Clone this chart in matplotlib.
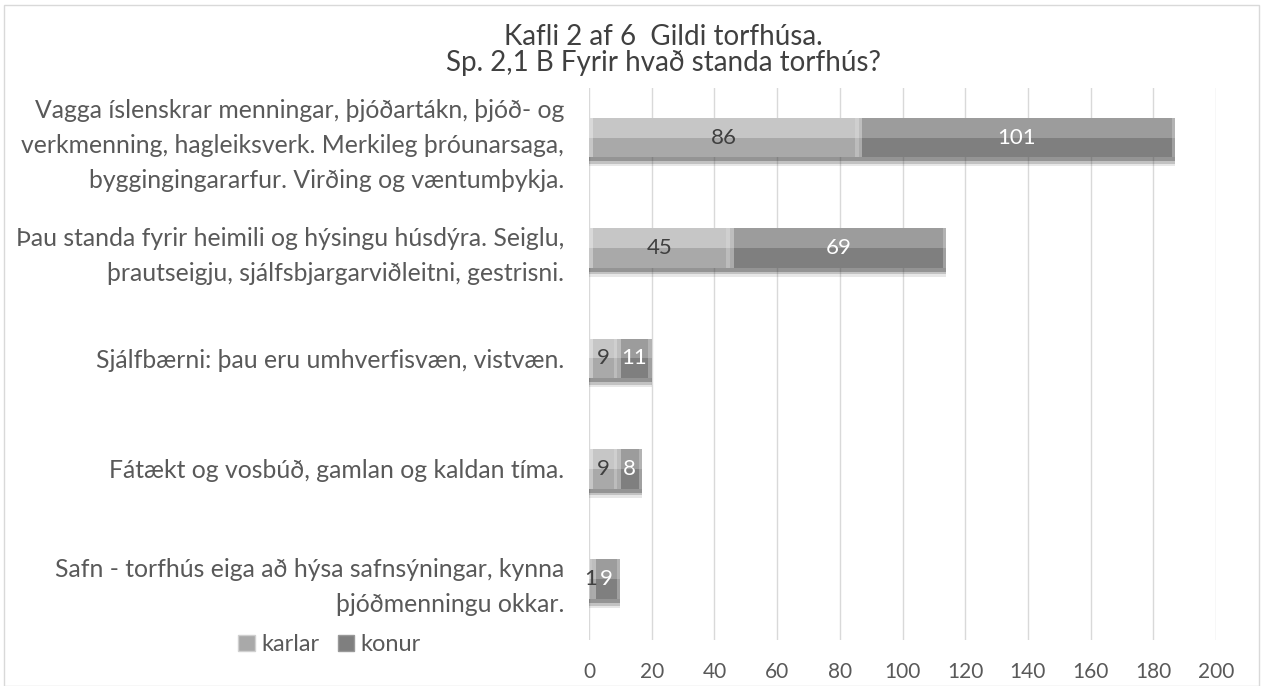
import matplotlib
matplotlib.use('Agg')
import matplotlib.pyplot as plt
from matplotlib.patches import Patch, Rectangle
import numpy as np

plt.rcParams['font.family'] = ['Lato', 'DejaVu Sans']

# data
categories = [
    "Vagga íslenskrar menningar, þjóðartákn, þjóð- og\nverkmenning, hagleiksverk. Merkileg þróunarsaga,\nbyggingingararfur. Virðing og væntumþykja.",
    "Þau standa fyrir heimili og hýsingu húsdýra. Seiglu,\nþrautseigju, sjálfsbjargarviðleitni, gestrisni.",
    "Sjálfbærni: þau eru umhverfisvæn, vistvæn.",
    "Fátækt og vosbúð, gamlan og kaldan tíma.",
    "Safn - torfhús eiga að hýsa safnsýningar, kynna\nþjóðmenningu okkar.",
]
karlar = [86, 45, 9, 9, 1]
konur = [101, 69, 11, 8, 9]
xticks = list(range(0, 201, 20))

title_lines = ["Kafli 2 af 6  Gildi torfhúsa.", "Sp. 2,1 B Fyrir hvað standa torfhús?"]

fig = plt.figure(figsize=(12.63, 6.86), dpi=100)
fig.patches.append(Rectangle((0.003, 0.0), 0.994, 0.992, transform=fig.transFigure,
                             fill=False, edgecolor='#d9d9d9', lw=1.0))

ax = fig.add_axes([0.4664, 0.067, 0.4964, 0.805])
y = np.arange(len(categories)) - 0.05
h = 0.36

# colours: (top half, bottom half, text)
styles = {
    'karlar': ('#c6c6c6', '#a9a9a9', '#404040'),
    'konur': ('#9c9c9c', '#7f7f7f', 'white'),
}


def bevel_bars(vals, left, key):
    top, bot, tc = styles[key]
    # soft shadow under the bars
    for k, a in [(0.08, 0.12), (0.06, 0.22), (0.035, 0.35)]:
        ax.barh(y + k, vals, height=h, left=left, color='#404040', alpha=a,
                edgecolor='none', zorder=2)
    ax.barh(y, vals, height=h, left=left, color=bot, edgecolor='none', zorder=3)
    ax.barh(y - h / 4, vals, height=h / 2, left=left, color=top, edgecolor='none', zorder=3)
    # light edges at the bar ends
    for yi, v, l in zip(y, vals, left):
        ew = min(1.2, v * 0.2)
        ax.add_patch(Rectangle((l, yi - h / 2), ew, h, color='white', alpha=0.35, lw=0, zorder=4))
        ax.add_patch(Rectangle((l + v - ew, yi - h / 2), ew, h, color='#e0e0e0', alpha=0.35, lw=0, zorder=4))
        ax.text(l + v / 2, yi, str(v), ha='center', va='center', color=tc,
                fontsize=16, zorder=5)


bevel_bars(karlar, [0] * len(karlar), 'karlar')
bevel_bars(konur, karlar, 'konur')

ax.set_xlim(0, 200)
ax.set_ylim(len(categories) - 0.5, -0.5)
ax.set_xticks(xticks)
ax.set_yticks(y)
ax.set_yticklabels(categories, fontsize=17.8, color='#595959', linespacing=1.62)
ax.tick_params(axis='y', length=0, pad=18)
ax.tick_params(axis='x', length=0, pad=16, labelsize=15, labelcolor='#595959')
ax.grid(axis='x', color='#d9d9d9', lw=1.0, zorder=0)
ax.set_axisbelow(True)
for s in ax.spines.values():
    s.set_visible(False)

fig.text(0.525, 1 - 37 / 686, title_lines[0], ha='center', va='center', fontsize=20,
         color='#404040')
fig.text(0.525, 1 - 63 / 686, title_lines[1], ha='center', va='center', fontsize=20,
         color='#404040')

handles = [Patch(facecolor=styles['karlar'][1], edgecolor='#d0d0d0', label='karlar'),
           Patch(facecolor=styles['konur'][1], edgecolor='#999999', label='konur')]
fig.legend(handles=handles, loc='center left', bbox_to_anchor=(0.172, 0.06), ncol=2,
           frameon=False, fontsize=17, labelcolor='#595959', handlelength=0.7,
           handleheight=0.7, handletextpad=0.25, columnspacing=0.8)

fig.savefig('out.png', dpi=100)
